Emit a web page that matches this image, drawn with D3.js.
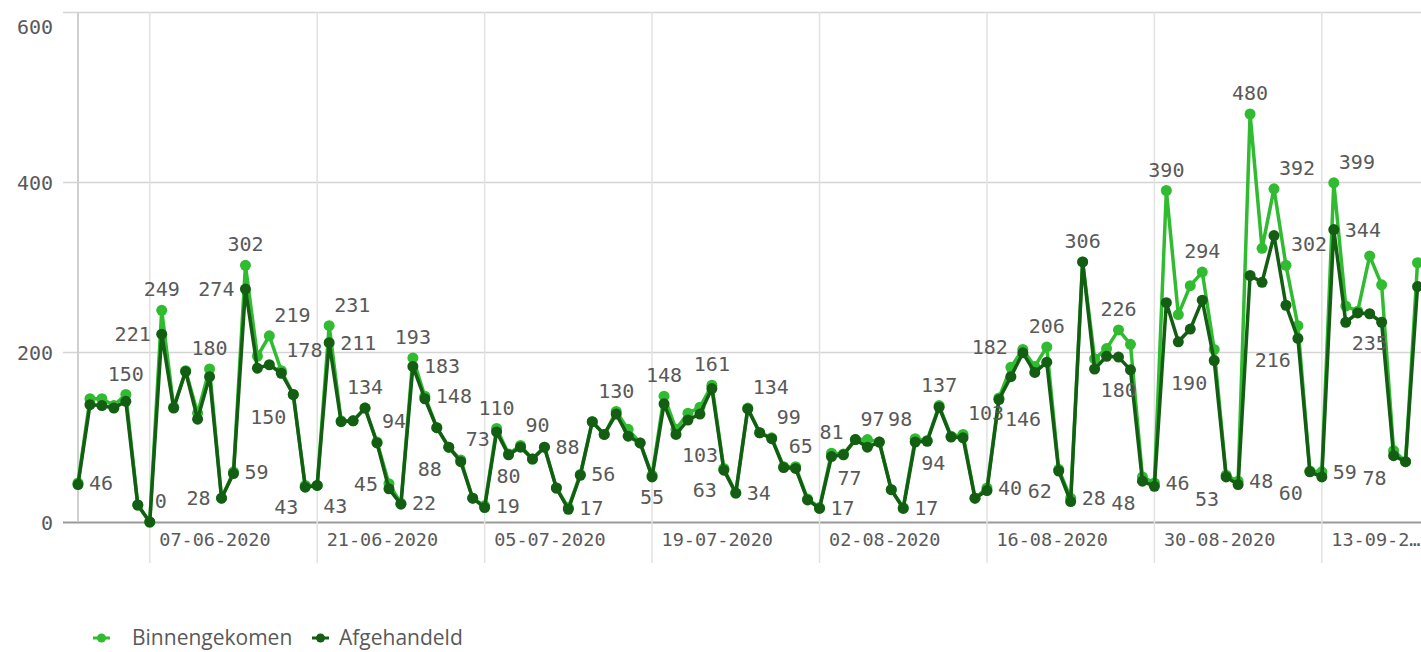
<!DOCTYPE html>
<html>
<head>
<meta charset="utf-8">
<script src="https://cdn.jsdelivr.net/npm/d3@7"></script>
<style>
  body { margin: 0; background: #fff; }
  svg { display: block; }
</style>
</head>
<body>
<div id="linechart"></div>
<script>
// daily values, first day 01-06-2020
var startDate = "01-06-2020";

var binnengekomen = [
  46, 145, 145, 137, 150, 20, 0, 249, 135, 178, 128, 180, 28, 59, 302, 195, 219, 178, 150, 43,
  43, 231, 119, 119, 134, 94, 45, 22, 193, 148, 111, 88, 73, 28, 19, 110, 80, 90, 74, 88,
  40, 17, 56, 118, 103, 130, 109, 93, 55, 148, 109, 128, 135, 161, 63, 34, 134, 105, 99, 65,
  65, 27, 17, 81, 80, 97, 97, 94, 38, 17, 98, 96, 137, 101, 103, 28, 40, 146, 182, 203,
  183, 206, 62, 28, 306, 192, 204, 226, 209, 53, 46, 390, 244, 278, 294, 203, 55, 48, 480, 322,
  392, 302, 231, 60, 59, 399, 254, 248, 313, 279, 84, 71, 305
];

var afgehandeld = [
  44, 138, 137, 134, 142, 20, 0, 221, 134, 177, 121, 171, 28, 57, 274, 181, 185, 175, 150, 41,
  43, 211, 118, 119, 134, 93, 39, 21, 183, 145, 111, 88, 71, 28, 17, 106, 79, 88, 74, 88,
  40, 15, 55, 118, 103, 127, 101, 93, 53, 139, 103, 120, 127, 157, 61, 34, 133, 105, 98, 64,
  63, 26, 16, 77, 79, 97, 88, 94, 38, 16, 94, 95, 135, 100, 99, 28, 37, 144, 171, 199,
  176, 188, 60, 24, 306, 180, 195, 194, 179, 48, 42, 258, 212, 227, 261, 190, 53, 44, 290, 282,
  337, 255, 216, 59, 53, 344, 235, 246, 245, 235, 78, 71, 277
];

var seriesNames = ["Binnengekomen", "Afgehandeld"];
var seriesColors = ["#31bb31", "#135e13"];

var tickLabels = ["07-06-2020", "21-06-2020", "05-07-2020", "19-07-2020",
                  "02-08-2020", "16-08-2020", "30-08-2020", "13-09-2020"];
var yTicks = [0, 200, 400, 600];

// which points carry a value label: [day index, series (0 = Binnengekomen, 1 = Afgehandeld)]
var labelPoints = [
  [0, 0], [4, 0], [6, 0], [7, 0], [7, 1], [11, 0], [12, 0], [13, 0], [14, 0], [14, 1],
  [16, 0], [17, 0], [18, 0], [19, 0], [20, 0], [21, 0], [21, 1], [24, 0], [25, 0], [26, 0],
  [27, 0], [28, 0], [28, 1], [29, 0], [31, 0], [32, 0], [34, 0], [35, 0], [36, 0], [37, 0],
  [39, 0], [41, 0], [42, 0], [45, 0], [48, 0], [49, 0], [50, 1], [53, 0], [54, 0], [55, 0],
  [56, 0], [58, 0], [59, 0], [62, 0], [63, 0], [63, 1], [65, 0], [69, 0], [70, 0], [70, 1],
  [72, 0], [74, 0], [76, 0], [77, 0], [78, 0], [81, 0], [82, 0], [83, 0], [84, 0], [85, 1],
  [87, 0], [89, 1], [90, 0], [91, 0], [94, 0], [95, 1], [96, 1], [97, 0], [98, 0], [100, 0],
  [101, 0], [102, 1], [103, 0], [104, 0], [105, 0], [105, 1], [106, 1], [110, 1]
];
// where each label sits around its point (same order as labelPoints)
var labelSpots = [
  "e", "n", "ne", "n", "w", "n", "w", "e", "n", "w",
  "ne", "ne", "sw", "sw", "se", "ne", "e", "n", "ne", "w",
  "e", "n", "e", "e", "sw", "ne", "e", "n", "s", "ne",
  "e", "e", "e", "n", "s", "n", "se", "n", "sw", "e",
  "ne", "ne", "ne", "e", "n", "se", "ne", "e", "nw", "se",
  "n", "ne", "e", "se", "nw", "n", "sw", "e", "n", "se",
  "n", "sw", "e", "n", "n", "sw", "sw", "e", "n", "ne",
  "ne", "sw", "sw", "e", "ne", "e", "se", "sw"
];

var width = 1421;
var height = 652;
var plotLeft = 78;
var plotTop = 12;
var plotBottom = 522;
var dayWidth = 11.96;

var parseDate = d3.timeParse("%d-%m-%Y");
var firstDay = parseDate(startDate);
var days = binnengekomen.map(function(v, i) { return d3.timeDay.offset(firstDay, i); });

var x = d3.scaleTime()
    .domain([days[0], days[days.length - 1]])
    .range([plotLeft, plotLeft + dayWidth * (days.length - 1)]);

var y = d3.scaleLinear()
    .domain([0, 600])
    .range([plotBottom, plotTop]);

var svg = d3.select("#linechart")
    .append("svg")
    .attr("width", width)
    .attr("height", height);

var monoFont = "'DejaVu Sans Mono', monospace";
var textColor = "#595959";

// horizontal grid + y labels
var yAxis = svg.append("g")
    .attr("transform", "translate(" + plotLeft + ",0)")
    .call(d3.axisLeft(y).tickValues(yTicks).tickSize(-(width - plotLeft)).tickPadding(25).tickFormat(d3.format("d")));
yAxis.select(".domain").remove();
yAxis.selectAll(".tick line")
    .attr("x2", width - plotLeft)
    .attr("x1", -15)
    .attr("stroke", function(d) { return d === 0 ? "#9a9a9a" : "#d4d4d4"; })
    .attr("stroke-width", function(d) { return d === 0 ? 2 : 1.5; });
yAxis.selectAll(".tick text")
    .attr("fill", textColor)
    .style("font-family", monoFont)
    .style("font-size", "20px")
    .attr("dy", function(d) { return d === 600 ? "1.05em" : "0.35em"; });

// vertical grid at the date ticks
var tickDates = tickLabels.map(parseDate);
svg.append("g")
    .selectAll("line")
    .data(tickDates)
    .enter()
    .append("line")
    .attr("x1", d => x(d))
    .attr("x2", d => x(d))
    .attr("y1", plotTop)
    .attr("y2", 563)
    .attr("stroke", "#e2e2e2")
    .attr("stroke-width", 1.5);

// y axis line
svg.append("line")
    .attr("x1", plotLeft).attr("x2", plotLeft)
    .attr("y1", plotTop).attr("y2", plotBottom)
    .attr("stroke", "#cfcfcf")
    .attr("stroke-width", 2);

// x labels
var xAxis = svg.append("g")
    .attr("transform", "translate(0," + plotBottom + ")")
    .call(d3.axisBottom(x).tickValues(tickDates).tickSize(0).tickFormat(d3.timeFormat("%d-%m-%Y")));
xAxis.select(".domain").remove();
xAxis.selectAll(".tick text")
    .attr("fill", textColor)
    .attr("text-anchor", "start")
    .attr("x", 9)
    .attr("y", 18)
    .attr("dy", "0.35em")
    .style("font-family", monoFont)
    .style("font-size", "18.5px")
    .each(function(d) {
        // shorten labels that run past the right edge
        var node = this;
        var txt = d3.timeFormat("%d-%m-%Y")(d);
        var room = width - (x(d) + 9);
        while (node.getComputedTextLength() > room && txt.length > 1) {
            txt = txt.slice(0, -1);
            node.textContent = txt + "…";
        }
    });

// series
var series = [binnengekomen, afgehandeld].map(function(vals, s) {
    return { name: seriesNames[s], color: seriesColors[s],
             values: vals.map(function(v, i) { return { date: days[i], value: v }; }) };
});

var line = d3.line()
    .x(d => x(d.date))
    .y(d => y(d.value));

var plot = svg.append("g");

series.forEach(function(s) {
    var g = plot.append("g");
    g.append("path")
        .datum(s.values)
        .attr("d", line)
        .attr("fill", "none")
        .attr("stroke", s.color)
        .attr("stroke-width", 3.5)
        .attr("stroke-linejoin", "round");
    g.selectAll("circle")
        .data(s.values)
        .enter()
        .append("circle")
        .attr("cx", d => x(d.date))
        .attr("cy", d => y(d.value))
        .attr("r", 5.5)
        .attr("fill", s.color);
});

// value labels
var spotOffsets = {
    n:  { dx: 0,   dy: -21, anchor: "middle" },
    s:  { dx: 0,   dy: 22,  anchor: "middle" },
    e:  { dx: 11,  dy: 0,   anchor: "start" },
    w:  { dx: -11, dy: 0,   anchor: "end" },
    ne: { dx: 5,   dy: -21, anchor: "start" },
    nw: { dx: -3,  dy: -20, anchor: "end" },
    se: { dx: 6,   dy: 21,  anchor: "start" },
    sw: { dx: -7,  dy: 22,  anchor: "end" }
};

svg.append("g")
    .selectAll("text")
    .data(labelPoints.map(function(p, k) {
        var s = series[p[1]];
        return { date: days[p[0]], value: s.values[p[0]].value, spot: spotOffsets[labelSpots[k]] };
    }))
    .enter()
    .append("text")
    .attr("x", d => x(d.date) + d.spot.dx)
    .attr("y", d => y(d.value) + d.spot.dy)
    .attr("dy", "0.35em")
    .attr("text-anchor", d => d.spot.anchor)
    .attr("fill", textColor)
    .style("font-family", monoFont)
    .style("font-size", "20px")
    .text(d => d.value);

// legend
var legend = svg.append("g").attr("transform", "translate(93,638)");
var legendX = [0, 219];
var legendTextX = [39, 27];
series.forEach(function(s, i) {
    var item = legend.append("g").attr("transform", "translate(" + legendX[i] + ",0)");
    item.append("line")
        .attr("x1", 0).attr("x2", 17)
        .attr("stroke", s.color)
        .attr("stroke-width", 3);
    item.append("circle")
        .attr("cx", 8.5).attr("r", 4.5)
        .attr("fill", s.color);
    item.append("text")
        .attr("x", legendTextX[i])
        .attr("dy", "0.35em")
        .attr("fill", textColor)
        .style("font-family", "'Open Sans', sans-serif")
        .style("font-size", "21px")
        .text(s.name);
});
</script>
</body>
</html>
